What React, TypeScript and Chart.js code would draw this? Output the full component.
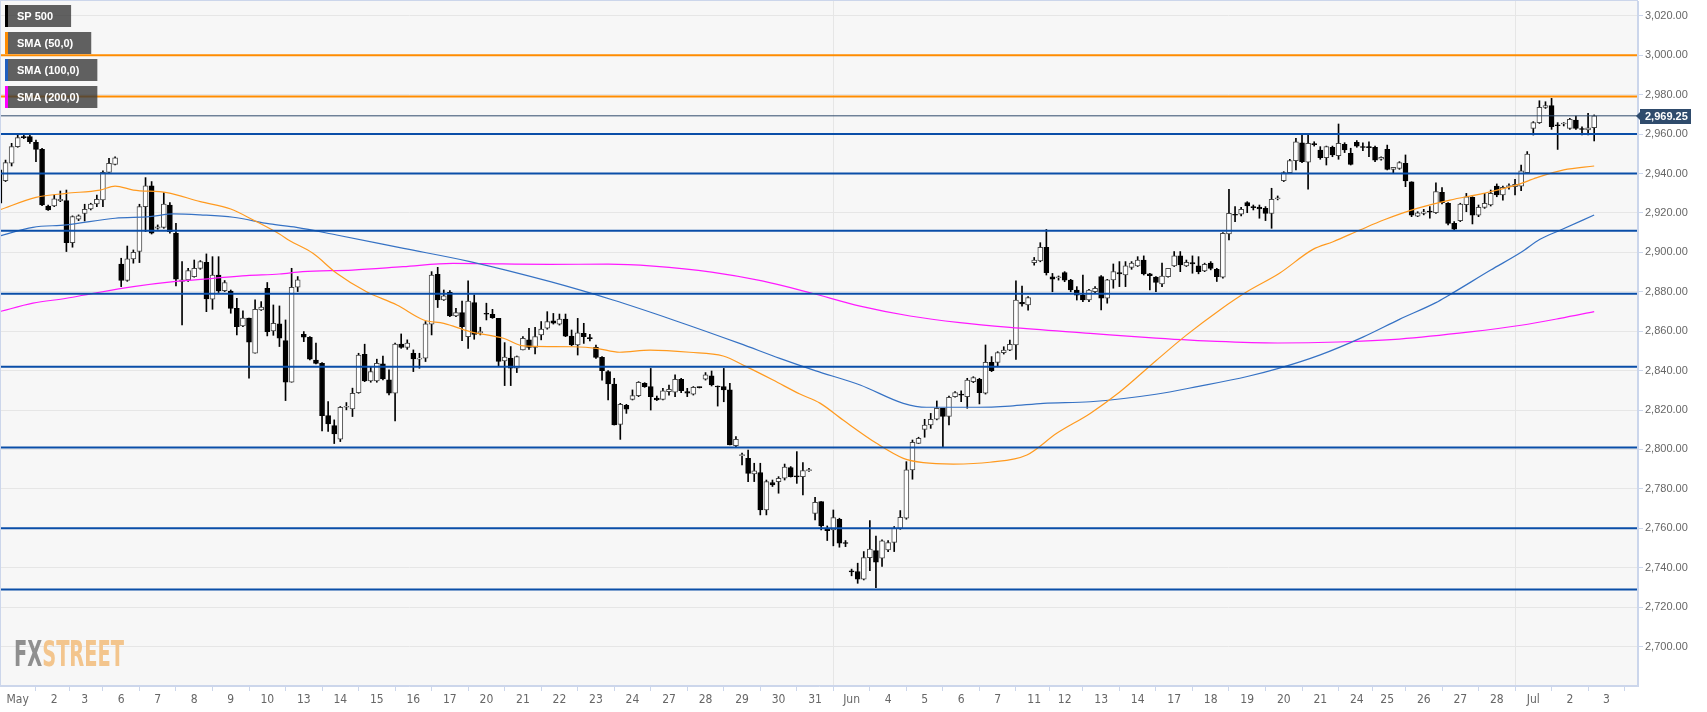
import { useEffect, useRef } from "react";
import { Chart, registerables } from "chart.js";

Chart.register(...registerables);

// ---- DATA ----
const opens = [2941.8,2936.4,2945.2,2953.6,2958.7,2958.7,2955.8,2952.2,2923.5,2923.5,2926.2,2926.2,2904.9,2916.8,2919.8,2922.0,2924.5,2926.6,2940.6,2944.6,
2894.1,2885.7,2896.7,2900.4,2923.2,2933.7,2912.2,2912.7,2924.0,2909.7,2885.2,2886.0,2887.7,2891.9,2894.9,2876.2,2888.5,2880.6,2880.4,2871.6,
2862.7,2866.6,2848.8,2870.8,2881.8,2860.1,2863.7,2855.2,2834.1,2882.3,2858.4,2856.9,2845.4,2843.7,2817.2,2812.1,2805.2,2821.4,2820.6,2828.8,
2848.3,2834.8,2834.8,2843.4,2835.3,2828.5,2853.5,2851.7,2848.8,2845.8,2846.3,2863.5,2888.9,2875.8,2879.7,2867.7,2869.4,2857.2,2874.5,2859.3,
2869.1,2868.6,2866.5,2844.9,2846.3,2841.2,2850.5,2855.6,2851.7,2858.1,2861.5,2865.3,2863.6,2866.2,2857.5,2853.0,2858.9,2856.4,2851.8,2846.7,
2839.5,2833.2,2812.7,2822.4,2825.4,2827.3,2833.5,2831.9,2826.1,2825.4,2829.3,2829.1,2835.6,2829.3,2828.1,2831.5,2835.6,2837.3,2831.9,2831.9,
2830.2,2801.9,2796.9,2795.5,2787.6,2788.3,2769.3,2783.2,2783.7,2785.4,2790.8,2786.6,2786.2,2789.3,2767.6,2773.5,2760.0,2759.2,2764.6,2752.4,
2738.1,2738.1,2734.2,2745.1,2748.7,2744.8,2749.0,2752.8,2760.0,2765.1,2789.6,2803.1,2810.2,2812.4,2815.3,2820.9,2816.7,2826.8,2828.1,2826.8,
2834.4,2835.6,2828.5,2844.2,2844.2,2849.1,2850.4,2853.0,2874.6,2873.3,2894.7,2895.6,2902.5,2887.6,2887.1,2889.7,2885.9,2880.9,2878.3,2875.8,
2880.1,2887.7,2876.7,2886.0,2889.7,2888.5,2892.3,2893.1,2896.1,2889.1,2887.4,2884.0,2887.7,2893.1,2898.2,2893.1,2894.8,2893.1,2890.6,2894.5,
2891.4,2887.4,2909.3,2919.3,2919.3,2925.2,2922.9,2922.9,2922.3,2919.8,2927.2,2936.4,2940.4,2946.5,2955.6,2945.7,2954.8,2951.9,2948.0,2953.3,
2949.0,2954.8,2950.2,2955.8,2953.3,2953.3,2953.3,2947.2,2952.2,2942.1,2942.6,2945.1,2935.8,2918.4,2919.8,2920.5,2920.1,2930.4,2924.9,2914.7,
2916.1,2924.2,2927.9,2918.9,2922.8,2924.0,2933.6,2929.1,2933.3,2933.3,2933.6,2940.4,2962.9,2965.8,2973.5,2974.4,2964.6,2965.1,2962.9,2967.1,
2962.4,2962.1,2963.2];
const highs = [2942.6,2946.8,2955.3,2959.5,2959.4,2959.5,2957.0,2952.8,2924.0,2929.1,2931.1,2931.6,2918.5,2919.0,2924.4,2924.9,2929.1,2941.4,2947.7,2948.4,
2897.0,2903.2,2901.2,2924.4,2937.9,2935.9,2913.9,2930.3,2925.2,2914.7,2895.3,2891.9,2896.1,2895.8,2899.2,2897.8,2897.8,2885.7,2880.9,2876.7,
2870.3,2866.6,2875.9,2875.0,2884.7,2873.3,2872.8,2865.7,2891.9,2887.7,2859.8,2857.3,2853.9,2844.1,2824.3,2815.0,2821.8,2823.8,2831.1,2848.8,
2853.4,2842.0,2845.8,2847.4,2840.4,2853.9,2858.6,2855.6,2850.5,2848.8,2864.9,2890.2,2892.4,2880.9,2880.6,2871.6,2875.3,2885.6,2878.4,2862.0,
2874.2,2871.1,2866.5,2854.2,2852.2,2847.4,2857.2,2861.5,2862.0,2864.9,2869.9,2869.0,2868.7,2868.7,2860.6,2866.5,2864.0,2858.4,2853.0,2847.1,
2840.0,2836.1,2823.4,2822.9,2830.2,2834.4,2833.9,2841.1,2827.1,2831.0,2832.7,2837.8,2836.1,2831.0,2831.9,2831.7,2839.0,2839.8,2832.2,2841.1,
2833.5,2806.5,2798.1,2799.7,2793.0,2793.0,2784.5,2784.5,2786.2,2792.6,2791.3,2798.9,2793.3,2790.4,2775.7,2773.5,2761.2,2769.3,2765.1,2753.8,
2739.3,2742.3,2748.2,2763.9,2756.1,2754.1,2753.8,2760.9,2769.0,2793.8,2804.8,2806.2,2815.3,2818.3,2824.6,2820.9,2827.1,2829.3,2829.8,2836.1,
2836.9,2836.1,2853.0,2847.1,2849.6,2852.1,2855.5,2885.6,2882.9,2877.5,2897.4,2904.9,2911.6,2889.3,2888.0,2890.2,2886.3,2882.6,2888.5,2881.2,
2882.6,2888.2,2886.3,2894.1,2895.3,2895.3,2895.3,2897.8,2898.2,2889.4,2887.7,2894.5,2891.9,2900.4,2900.4,2896.1,2898.2,2897.8,2894.5,2895.3,
2891.9,2910.0,2932.0,2923.2,2922.8,2925.7,2924.0,2924.0,2923.2,2932.5,2928.6,2940.9,2947.2,2957.8,2960.0,2960.0,2956.1,2953.6,2953.9,2953.9,
2965.1,2955.6,2952.8,2956.7,2955.6,2956.1,2953.9,2948.5,2954.4,2943.1,2946.0,2949.4,2935.8,2920.6,2921.8,2923.2,2935.3,2932.8,2925.2,2915.6,
2924.9,2929.9,2928.2,2924.0,2929.9,2931.6,2934.7,2933.6,2934.7,2937.0,2944.3,2951.1,2966.3,2976.9,2976.4,2978.1,2965.8,2965.8,2968.0,2969.1,
2963.7,2970.5,2969.7];
const lows = [2924.5,2935.9,2943.8,2953.3,2957.7,2955.3,2946.0,2923.7,2921.2,2923.2,2925.7,2900.4,2902.6,2916.1,2915.9,2921.5,2923.2,2923.2,2940.4,2944.3,
2882.6,2885.3,2894.5,2894.8,2910.5,2909.3,2911.7,2912.2,2909.7,2883.0,2863.2,2885.2,2887.4,2891.4,2869.9,2871.1,2879.6,2880.1,2869.1,2858.1,
2862.3,2836.2,2848.8,2870.5,2857.6,2857.9,2852.2,2824.8,2834.1,2880.1,2854.7,2845.4,2843.4,2809.4,2809.1,2803.0,2804.0,2820.1,2816.7,2828.5,
2834.4,2834.1,2834.1,2835.3,2827.7,2814.5,2851.3,2850.8,2839.5,2841.2,2844.6,2858.1,2872.0,2875.6,2867.4,2867.4,2855.2,2851.3,2855.9,2858.1,
2865.7,2866.5,2842.0,2832.4,2832.4,2839.0,2850.5,2850.8,2848.5,2855.6,2861.0,2863.6,2863.1,2857.2,2852.6,2847.9,2853.8,2855.0,2846.2,2835.2,
2825.1,2812.4,2805.1,2818.3,2825.1,2826.8,2831.5,2820.0,2824.8,2825.1,2827.6,2826.8,2828.8,2826.8,2827.6,2831.2,2835.2,2832.2,2822.0,2824.2,
2802.3,2801.4,2792.1,2783.7,2783.7,2766.8,2766.8,2781.2,2777.8,2784.5,2786.0,2782.8,2776.9,2788.8,2764.3,2759.2,2753.8,2751.1,2750.4,2750.7,
2735.9,2732.1,2733.8,2738.5,2729.9,2740.6,2748.2,2748.2,2759.5,2764.6,2784.9,2803.0,2806.2,2810.7,2815.0,2801.1,2812.4,2826.5,2824.3,2820.9,
2833.9,2823.1,2828.1,2839.5,2842.0,2848.4,2850.1,2845.7,2872.7,2870.7,2893.5,2895.2,2888.5,2880.0,2885.9,2885.1,2880.0,2875.8,2875.0,2875.0,
2879.2,2870.8,2874.2,2881.8,2882.6,2882.6,2891.4,2892.8,2888.5,2880.9,2880.1,2882.6,2887.4,2892.8,2890.2,2892.8,2889.4,2889.1,2890.2,2891.1,
2885.2,2886.9,2906.3,2915.6,2918.5,2920.1,2921.5,2917.3,2916.1,2912.2,2926.6,2935.9,2940.1,2941.8,2945.5,2932.0,2953.9,2947.2,2944.3,2948.5,
2947.2,2950.6,2944.3,2953.3,2951.6,2948.5,2946.0,2946.8,2941.8,2940.1,2942.1,2933.3,2918.1,2918.1,2919.0,2917.3,2919.8,2924.5,2913.9,2911.4,
2915.6,2920.6,2914.4,2918.1,2922.3,2923.5,2928.2,2926.5,2932.0,2929.1,2931.3,2940.1,2959.5,2965.4,2973.0,2962.4,2952.2,2964.1,2962.4,2962.4,
2959.5,2959.5,2956.5];
const closes = [2924.9,2945.5,2953.6,2958.2,2958.2,2956.1,2952.2,2924.0,2921.5,2927.1,2926.9,2904.9,2918.1,2918.5,2921.8,2924.5,2926.9,2940.6,2945.2,2948.0,
2885.7,2896.7,2900.0,2923.2,2933.7,2909.7,2913.0,2924.5,2910.5,2886.4,2886.0,2890.7,2891.9,2895.3,2876.4,2888.5,2880.4,2884.7,2871.6,2862.3,
2866.6,2854.4,2871.1,2872.2,2859.8,2864.0,2856.4,2834.1,2882.3,2886.0,2856.9,2845.8,2843.7,2817.2,2813.0,2807.9,2821.4,2821.9,2828.5,2847.9,
2834.8,2839.5,2843.7,2835.8,2828.5,2853.4,2851.7,2853.9,2845.9,2846.3,2863.7,2888.5,2875.8,2877.9,2867.7,2869.4,2862.3,2875.3,2858.4,2859.8,
2868.6,2866.9,2844.6,2846.8,2841.2,2847.1,2856.4,2851.7,2857.2,2861.1,2864.9,2864.0,2866.2,2857.5,2853.0,2859.2,2857.2,2856.2,2846.7,2840.0,
2833.2,2812.4,2822.9,2820.4,2827.3,2834.1,2831.9,2826.8,2825.1,2829.8,2830.5,2835.6,2829.8,2828.5,2831.5,2831.4,2837.8,2832.7,2831.7,2830.2,
2802.3,2805.1,2797.0,2787.9,2789.1,2769.3,2783.7,2782.0,2785.4,2791.0,2786.2,2786.1,2789.3,2789.6,2773.2,2761.2,2758.8,2765.4,2752.4,2752.3,
2737.9,2734.2,2745.1,2749.5,2742.8,2753.7,2752.8,2760.0,2765.6,2789.6,2803.6,2805.7,2812.4,2815.3,2820.9,2816.7,2826.5,2828.8,2827.5,2835.2,
2836.4,2828.8,2844.2,2840.0,2849.1,2850.4,2853.3,2875.8,2873.8,2877.0,2896.1,2902.5,2889.7,2886.4,2887.3,2885.9,2880.9,2878.3,2875.8,2880.9,
2881.8,2876.7,2886.0,2890.2,2889.1,2893.1,2894.5,2896.1,2889.1,2888.2,2884.7,2888.0,2891.9,2898.2,2893.6,2894.9,2894.1,2890.2,2893.9,2891.9,
2887.7,2909.7,2919.8,2918.8,2921.8,2923.5,2922.7,2922.0,2919.8,2926.9,2927.4,2940.4,2946.5,2956.1,2946.0,2955.3,2954.6,2948.0,2953.6,2949.4,
2955.3,2951.9,2944.6,2953.9,2953.2,2953.1,2946.8,2948.2,2942.1,2943.1,2945.5,2936.2,2918.9,2920.1,2920.5,2920.4,2930.8,2925.2,2914.7,2911.7,
2924.5,2928.2,2918.9,2922.8,2924.9,2929.9,2929.1,2933.0,2933.5,2934.5,2941.3,2949.9,2965.8,2973.5,2974.4,2963.7,2964.2,2965.2,2967.5,2962.9,
2962.3,2963.2,2969.25];

// SMA readings: [candle index, value]
const sma50 = [[0,2921.5],[6,2927.9],[11,2929.9],[16.5,2931.6],[19,2933.6],[22,2931.6],[27.5,2930.3],[33,2925.7],[38,2922],[41.7,2916.4],[46,2909.3],[47.7,2905.9],[51.5,2899.5],[55.4,2889.4],[60.3,2880],[65.3,2873.3],[69.7,2865.7],[73,2864],[77.3,2859.8],[82.8,2856.4],[86.1,2852.5],[90.5,2852.2],[94.3,2852.1],[98.1,2851.3],[101.9,2849.3],[106.9,2850.4],[113.4,2849.3],[118.9,2847.4],[122.7,2842],[127.1,2835.2],[131.5,2828.1],[134.8,2823.5],[138.6,2814.9],[144.1,2803.1],[148.5,2795.5],[151.8,2793.3],[156.7,2792.6],[162.7,2793.5],[168.8,2797.2],[173.7,2808.2],[179.2,2818.3],[184,2829],[190,2845],[195,2858],[200.5,2870.8],[205,2880.1],[210.3,2889.4],[215.8,2901.5],[219.1,2905.4],[223.5,2911.3],[227.4,2916.4],[232.9,2922.3],[238.3,2926.5],[243.8,2929.9],[249.3,2934.2],[252.6,2937.9],[257,2941.8],[262,2943.8]];
const sma100 = [[0,2908.3],[5.5,2912.7],[11,2913.9],[19,2917.3],[24.7,2918.1],[28.6,2919.5],[33,2919],[38.4,2917.8],[44.4,2914.4],[48.8,2912.7],[55.4,2908.8],[66.4,2902],[77.3,2895.3],[90.5,2885.1],[100.8,2875.8],[110.7,2865.7],[121.6,2853.8],[128.2,2846.2],[134,2840],[141.4,2832.7],[148.5,2823.4],[152.3,2821.4],[160.6,2821.4],[166,2822],[171.5,2823.4],[179.2,2824.2],[190,2828],[197,2832],[205,2837],[210,2841],[217,2848],[224,2857],[230,2866],[236,2874.5],[238,2878],[245,2891],[250,2900],[253.1,2906.6],[256.4,2911.2],[262,2918.9]];
const sma200 = [[0,2869.9],[5.5,2874.2],[11,2876.7],[15.4,2879.2],[22,2882.6],[28.6,2885.1],[35.1,2886.8],[40.6,2888.2],[46,2889],[49.8,2890.2],[58,2891],[66.3,2892.7],[74.5,2894.4],[82.7,2894.1],[90.4,2893.9],[100,2894],[107.4,2893],[117,2890],[125.3,2885.5],[133.2,2879.5],[141.4,2872.7],[149.6,2867.7],[157.8,2864.3],[166,2861.9],[179.2,2858.9],[190,2856.5],[200,2854.8],[210,2854],[220,2854.5],[230,2856],[241.6,2859.6],[250,2863],[256.4,2866.5],[262,2869.9]];

const orangeLevels = [3000, 2979];
const blueLevels = [2960, 2940, 2911, 2879, 2842, 2801, 2760, 2729];
const lastPrice = 2969.25;

const dayLabels = ["May","2","3","6","7","8","9","10","13","14","15","16","17","20","21","22","23","24","27","28","29","30","31","Jun","4","5","6","7","11","12","13","14","17","18","19","20","21","24","25","26","27","28","Jul","2","3"];
const dayStarts = [3,9,14,20,26,32,38,44,50,56,62,68,74,80,86,92,98,104,110,116,122,128,134,140,146,152,158,164,170,175,181,187,193,199,205,211,217,223,228,234,240,246,252,258,264];
const monthLabels = ["May","Jun","Jul"];
const yTicks = [2700,2720,2740,2760,2780,2800,2820,2840,2860,2880,2900,2920,2940,2960,2980,3000,3020];

const legendItems = [
  { label: "SP 500", color: "#000000" },
  { label: "SMA (50,0)", color: "#ff8c00" },
  { label: "SMA (100,0)", color: "#1f5fbf" },
  { label: "SMA (200,0)", color: "#ff00ff" },
];

const NARROW = "'Liberation Sans Narrow', 'DejaVu Sans Condensed', 'Roboto Condensed', Arial, sans-serif";
const SANS = "'Liberation Sans', Arial, sans-serif";

export default function App() {
  const ref = useRef<HTMLCanvasElement>(null);

  useEffect(() => {
    document.body.style.margin = "0";
    const canvas = ref.current!;

    const bodies = opens.map((o, i) => ({ x: i, y: [Math.min(o, closes[i]), Math.max(o, closes[i])] }));
    const wicks = lows.map((l, i) => ({ x: i, y: [l, highs[i]] }));
    const up = opens.map((o, i) => closes[i] >= o);

    const levelDs = (v: number, color: string, width: number) => ({
      type: "line" as const,
      data: [{ x: -5, y: v }, { x: 280, y: v }],
      borderColor: color,
      borderWidth: width,
      pointRadius: 0,
      clip: 0,
      order: 1,
    });

    const smaDs = (pts: number[][], color: string) => ({
      type: "line" as const,
      data: pts.map(([x, y]) => ({ x, y })),
      borderColor: color,
      borderWidth: 1.2,
      pointRadius: 0,
      cubicInterpolationMode: "monotone" as const,
      clip: 0,
      order: 2,
    });

    const bgPlugin = {
      id: "bg",
      beforeDraw(chart: any) {
        const { ctx, chartArea: a } = chart;
        ctx.save();
        ctx.fillStyle = "#ffffff";
        ctx.fillRect(0, 0, chart.width, chart.height);
        ctx.fillStyle = "#f7f7f7";
        ctx.fillRect(a.left, a.top, a.right - a.left, a.bottom - a.top);
        ctx.restore();
      },
      beforeDatasetsDraw(chart: any) {
        const { ctx } = chart;
        ctx.save();
        ctx.font = `bold 36px ${NARROW}`;
        const w1 = ctx.measureText("FX").width;
        const w2 = ctx.measureText("STREET").width;
        const sx = 110 / (w1 + w2);
        ctx.translate(14, 666);
        ctx.scale(sx, 1);
        ctx.textBaseline = "alphabetic";
        ctx.fillStyle = "#8f8f8f";
        ctx.fillText("FX", 0, 0);
        ctx.fillStyle = "#f3c58d";
        ctx.fillText("STREET", w1, 0);
        ctx.restore();
      },
      afterDraw(chart: any) {
        const { ctx, chartArea: a } = chart;
        const ys = chart.scales.y;
        ctx.save();
        ctx.strokeStyle = "#ccd6eb";
        ctx.lineWidth = 1;
        ctx.strokeRect(a.left + 0.5, a.top - 0.5, a.right - a.left - 1, a.bottom - a.top);
        ctx.font = `bold 11px ${SANS}`;
        ctx.textBaseline = "middle";
        legendItems.forEach((it, k) => {
          const y0 = 5 + k * 27;
          const tw = ctx.measureText(it.label).width;
          const w = 12 + tw + 18;
          ctx.fillStyle = "rgba(58,58,58,0.8)";
          ctx.fillRect(5, y0, w, 22);
          ctx.fillStyle = it.color;
          ctx.fillRect(5, y0, 3, 22);
          ctx.fillStyle = "#ffffff";
          ctx.fillText(it.label, 17, y0 + 11.5);
        });
        const py = Math.round(ys.getPixelForValue(lastPrice));
        ctx.fillStyle = "#2f4b6c";
        ctx.beginPath();
        ctx.moveTo(1636, py);
        ctx.lineTo(1640, py - 4);
        ctx.lineTo(1640, py - 7);
        ctx.lineTo(1691, py - 7);
        ctx.lineTo(1691, py + 8);
        ctx.lineTo(1640, py + 8);
        ctx.lineTo(1640, py + 4);
        ctx.closePath();
        ctx.fill();
        ctx.fillStyle = "#ffffff";
        ctx.font = `bold 11px ${SANS}`;
        ctx.fillText(lastPrice.toLocaleString("en-US", { minimumFractionDigits: 2 }), 1645, py + 0.5);
        ctx.restore();
      },
    };

    const chart = new Chart(canvas, {
      type: "bar",
      data: {
        datasets: [
          ...orangeLevels.map((v) => levelDs(v, "#ff8c00", 2)),
          ...blueLevels.map((v) => levelDs(v, "#0a4ea8", 2)),
          levelDs(lastPrice, "#2f4b6c", 1),
          smaDs(sma50, "#ff9a1f"),
          smaDs(sma100, "#3672c4"),
          smaDs(sma200, "#ff1aff"),
          {
            type: "bar" as const,
            data: bodies as any,
            backgroundColor: up.map((u) => (u ? "#ffffff" : "#000000")),
            borderColor: up.map((u) => (u ? "#4a4a4a" : "#000000")),
            borderWidth: 1,
            borderSkipped: false,
            barThickness: 5,
            minBarLength: 1,
            grouped: false,
            order: 3,
          },
          {
            type: "bar" as const,
            data: wicks as any,
            backgroundColor: "#000000",
            borderWidth: 0,
            barThickness: 1,
            grouped: false,
            order: 4,
          },
        ] as any,
      },
      options: {
        animation: false,
        responsive: false,
        devicePixelRatio: 1,
        events: [],
        layout: { padding: { top: 1, left: 0, right: 0, bottom: 0 } },
        plugins: { legend: { display: false }, tooltip: { enabled: false } },
        scales: {
          x: {
            type: "linear",
            min: 0.09,
            max: 269.2,
            offset: false,
            afterBuildTicks: (s: any) => {
              s.ticks = dayStarts.map((v) => ({ value: v }));
            },
            afterFit: (s: any) => {
              s.height = 26;
              s.paddingLeft = 0;
              s.paddingRight = 0;
            },
            ticks: {
              autoSkip: false,
              maxRotation: 0,
              color: "#666666",
              padding: 2,
              font: { family: NARROW, size: 12 },
              callback: (v: any) => dayLabels[dayStarts.indexOf(Number(v))] ?? "",
            },
            grid: {
              color: (c: any) =>
                c.tick && monthLabels.includes(dayLabels[dayStarts.indexOf(c.tick.value)]) ? "#e6e6e6" : "rgba(0,0,0,0)",
              tickColor: "#ccd6eb",
              tickLength: 5,
            },
            border: { color: "#ccd6eb" },
          },
          y: {
            type: "linear",
            position: "right",
            min: 2680,
            max: 3027.5,
            afterBuildTicks: (s: any) => {
              s.ticks = yTicks.map((v) => ({ value: v }));
            },
            afterFit: (s: any) => {
              s.width = 69;
              s.paddingTop = 0;
              s.paddingBottom = 0;
            },
            ticks: {
              color: "#666666",
              padding: 2,
              font: { family: SANS, size: 11 },
              callback: (v: any) => Number(v).toLocaleString("en-US", { minimumFractionDigits: 2, maximumFractionDigits: 2 }),
            },
            grid: { color: "#e6e6e6", tickColor: "#ccd6eb", tickLength: 5 },
            border: { color: "#ccd6eb" },
          },
        },
      } as any,
      plugins: [bgPlugin],
    });

    return () => chart.destroy();
  }, []);

  return (
    <div style={{ width: 1707, height: 712 }}>
      <canvas ref={ref} width={1707} height={712} style={{ display: "block" }} />
    </div>
  );
}
